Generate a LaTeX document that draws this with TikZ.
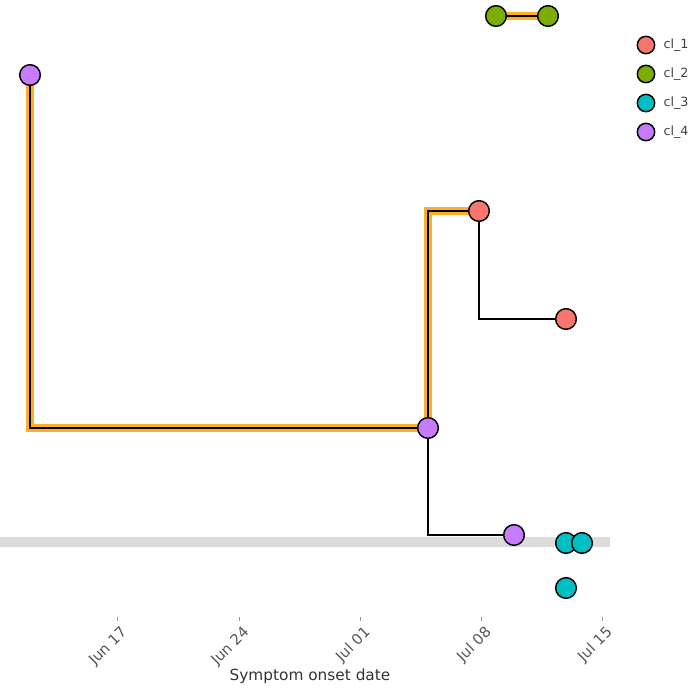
\documentclass[tikz,border=0pt]{standalone}
\usepackage{fontspec}
\setmainfont{DejaVu Sans}
\usepackage{tikz}
\usetikzlibrary{positioning, backgrounds}

\definecolor{clone}{HTML}{F8766D}
\definecolor{cltwo}{HTML}{7CAE00}
\definecolor{clthree}{HTML}{00BFC4}
\definecolor{clfour}{HTML}{C77CFF}
\definecolor{hilite}{HTML}{FFB01F}
\definecolor{band}{HTML}{DCDCDC}
\definecolor{ticktext}{HTML}{555555}

\begin{document}
\begin{tikzpicture}[
  x=0.75pt, y=-0.75pt,
  case/.style={circle, draw=black, line width=1.1pt, minimum size=15.5pt, inner sep=0pt},
  keydot/.style={circle, draw=black, line width=1.1pt, minimum size=13pt, inner sep=0pt},
  link/.style={draw=black, line width=1.3pt},
  glow/.style={draw=hilite, line width=5.5pt},
  tickmark/.style={draw=ticktext!60, line width=0.6pt},
  ticklabel/.style={anchor=north east, rotate=45, font=\fontsize{11}{13}\selectfont, text=ticktext, inner sep=0pt}
]
\useasboundingbox (0,0) rectangle (694,688);

% date band
\fill[band] (0,537) rectangle (610,547);

% cases
\node[case, fill=clfour] (p0) at (30,75) {};
\node[case, fill=clfour] (p1) at (428,428) {};
\node[case, fill=clfour] (p2) at (514,535) {};
\node[case, fill=clone] (r1) at (479,211) {};
\node[case, fill=clone] (r2) at (566,319) {};
\node[case, fill=cltwo] (g1) at (496,16) {};
\node[case, fill=cltwo] (g2) at (548,16) {};
\node[case, fill=clthree] (c1) at (566,543) {};
\node[case, fill=clthree] (c2) at (582,543) {};
\node[case, fill=clthree] (c3) at (566,588) {};

% transmission links
\begin{scope}[on background layer]
  \draw[glow] (p0.center) |- (p1.center);
  \draw[glow] (p1.center) |- (r1.center);
  \draw[glow] (g1.center) -- (g2.center);
  \draw[link] (p0.center) |- (p1.center);
  \draw[link] (p1.center) |- (r1.center);
  \draw[link] (g1.center) -- (g2.center);
  \draw[link] (r1.center) |- (r2.center);
  \draw[link] (p1.center) |- (p2.center);
\end{scope}

% axis
\foreach \tx/\lab in {117/Jun 17, 239/Jun 24, 360/Jul 01, 481/Jul 08, 602/Jul 15} {
  \draw[tickmark] (\tx,617) -- (\tx,621);
  \node[ticklabel] at (\tx+3,625) {\lab};
}
\node[font=\fontsize{11.5}{13}\selectfont, text=black!80] (xtitle) at (310,676) {Symptom onset date};

% legend
\node[keydot, fill=clone] (k1) at (646,45) {};
\node[keydot, fill=cltwo] (k2) at (646,74) {};
\node[keydot, fill=clthree] (k3) at (646,103) {};
\node[keydot, fill=clfour] (k4) at (646,132) {};
\foreach \k/\lab in {k1/cl\_1, k2/cl\_2, k3/cl\_3, k4/cl\_4}
  \node[right=5pt of \k, font=\fontsize{9.5}{11}\selectfont, text=black!75, inner sep=1pt] {\lab};

\end{tikzpicture}
\end{document}
